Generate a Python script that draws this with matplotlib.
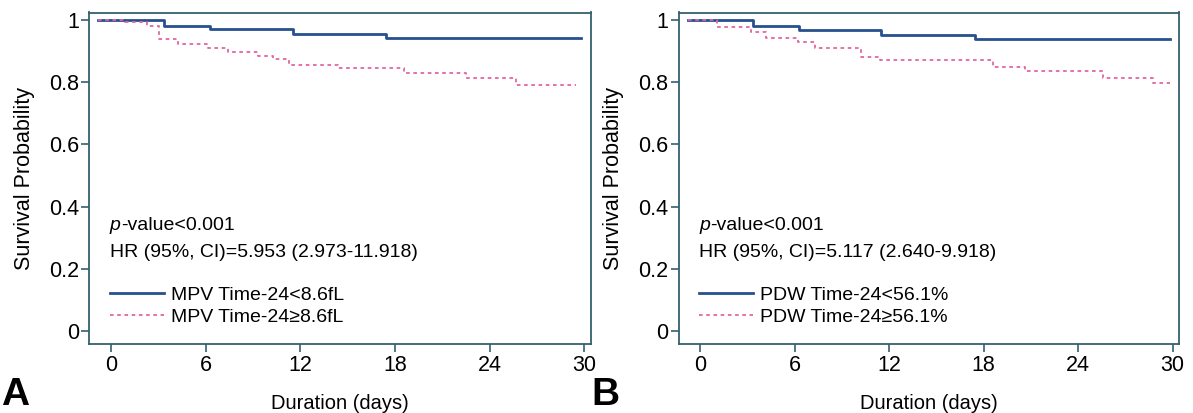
import matplotlib
matplotlib.use("Agg")
import matplotlib.pyplot as plt

# ---- data ----
a_low_t = [-0.8, 3.33, 6.3, 11.5, 17.45, 29.8]
a_low_s = [1.0, 0.982, 0.970, 0.955, 0.942, 0.942]
a_high_t = [-0.8, 0.9, 2.28, 3.06, 4.22, 6.12, 7.39, 9.29, 10.24, 11.3, 14.36, 18.57, 22.47, 25.64, 29.5]
a_high_s = [1.0, 0.994, 0.981, 0.938, 0.923, 0.909, 0.898, 0.885, 0.874, 0.855, 0.847, 0.829, 0.813, 0.791, 0.791]

b_low_t = [-0.8, 3.34, 6.26, 11.49, 17.46, 29.8]
b_low_s = [1.0, 0.982, 0.969, 0.953, 0.940, 0.940]
b_high_t = [-0.8, 1.06, 3.24, 4.19, 6.22, 7.28, 10.24, 11.4, 18.6, 20.6, 25.6, 28.76, 29.8]
b_high_s = [1.0, 0.978, 0.962, 0.941, 0.928, 0.909, 0.882, 0.871, 0.850, 0.836, 0.813, 0.798, 0.798]

x_ticks = [0, 6, 12, 18, 24, 30]
y_ticks = [0, 0.2, 0.4, 0.6, 0.8, 1.0]
y_ticklabels = ["0", "0.2", "0.4", "0.6", "0.8", "1"]

a_labels = ["MPV Time-24<8.6fL", "MPV Time-24\u22658.6fL"]
b_labels = ["PDW Time-24<56.1%", "PDW Time-24\u226556.1%"]
a_hr = "HR (95%, CI)=5.953 (2.973-11.918)"
b_hr = "HR (95%, CI)=5.117 (2.640-9.918)"
p_text = "-value<0.001"

plt.rcParams['font.family'] = ['Liberation Sans', 'DejaVu Sans']

W, H = 1193, 413
fig = plt.figure(figsize=(W / 100, H / 100), dpi=100)

BLUE = '#27508f'
PINK = '#e2679f'
SPINE = '#35606e'
FS = 14
TFS = 15.5

def panel(left_px, right_px, lt, ls, ht, hs, labels, hr, letter, letter_x):
    top_px, bot_px = 12.5, 344.3
    ax = fig.add_axes([left_px / W, 1 - bot_px / H, (right_px - left_px) / W, (bot_px - top_px) / H])
    ax.step(lt, ls, where='post', color=BLUE, lw=2.0, label=labels[0])
    ax.step(ht, hs, where='post', color=PINK, lw=1.3, dashes=(2.0, 2.0), label=labels[1])
    ax.set_xlim(-1.38, 30.42)
    ax.set_ylim(-0.043, 1.024)
    ax.set_xticks(x_ticks)
    ax.set_yticks(y_ticks)
    ax.set_yticklabels(y_ticklabels)
    for s in ax.spines.values():
        s.set_color(SPINE)
        s.set_linewidth(1.3)
    ax.tick_params(direction='out', length=6, width=1.2, color=SPINE, labelsize=TFS, pad=1.5)
    ax.set_ylabel("Survival Probability", fontsize=15.5, labelpad=10)
    ax.set_xlabel("Duration (days)", fontsize=14.5, labelpad=13)
    t1 = ax.text(0.041, 0.345, "p", transform=ax.transAxes, fontsize=FS, va='baseline', style='italic')
    fig.canvas.draw()
    bb = t1.get_window_extent()
    xa = ax.transAxes.inverted().transform((bb.x1, bb.y0))[0]
    ax.text(xa, 0.345, p_text, transform=ax.transAxes, fontsize=FS, va='baseline')
    ax.text(0.041, 0.262, hr, transform=ax.transAxes, fontsize=FS, va='baseline')
    ax.legend(loc='center left', bbox_to_anchor=(0.041, 0.115), frameon=False, fontsize=FS,
              handlelength=2.8, handletextpad=0.35, labelspacing=0.25, borderpad=0, borderaxespad=0)
    fig.text(letter_x / W, 0.0, letter, fontsize=28, fontweight='bold', va='bottom')
    return ax

panel(89.3, 591, a_low_t, a_low_s, a_high_t, a_high_s, a_labels, a_hr, "A", 1)
panel(678.5, 1179.3, b_low_t, b_low_s, b_high_t, b_high_s, b_labels, b_hr, "B", 591)

fig.savefig("out.png", dpi=100)
